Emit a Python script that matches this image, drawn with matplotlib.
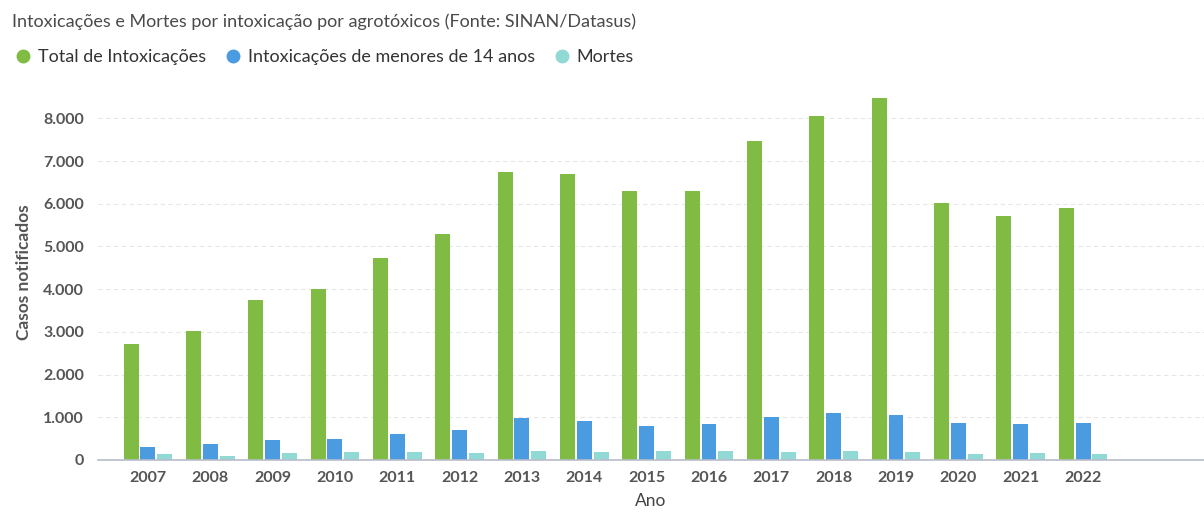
import numpy as np
import matplotlib
matplotlib.use('Agg')
from matplotlib import pyplot as plt
from matplotlib.lines import Line2D
from matplotlib.ticker import FuncFormatter

plt.rcParams['font.family'] = ['Lato', 'DejaVu Sans']

# data
anos = ['2007', '2008', '2009', '2010', '2011', '2012', '2013', '2014',
        '2015', '2016', '2017', '2018', '2019', '2020', '2021', '2022']
total = [2720, 3030, 3750, 4000, 4720, 5280, 6750, 6690,
         6300, 6300, 7460, 8050, 8480, 6020, 5710, 5900]
menores = [310, 370, 470, 490, 610, 710, 980, 920,
           790, 840, 1000, 1110, 1060, 860, 840, 860]
mortes = [130, 95, 160, 180, 185, 160, 220, 185,
          220, 220, 185, 220, 185, 135, 160, 135]

c_total = '#80bc44'
c_menores = '#4a9be0'
c_mortes = '#90d9d4'

fig = plt.figure(figsize=(12.04, 5.12), dpi=100)
ax = fig.add_axes([0.0814, 0.1016, 0.9186, 0.734])

x = np.arange(len(anos))
w = 0.24
ax.bar(x - w - 0.03, total, w, color=c_total)
ax.bar(x, menores, w, color=c_menores)
ax.bar(x + w + 0.03, mortes, w, color=c_mortes)

ax.set_xlim(-0.8, len(anos) - 1 + 1.94)
ax.set_ylim(0, 8800)
ax.set_yticks(range(0, 8001, 1000))
ax.yaxis.set_major_formatter(FuncFormatter(lambda v, p: f'{int(v):,}'.replace(',', '.')))
ax.set_xticks(x)
ax.set_xticklabels(anos)

for s in ['top', 'right', 'left']:
    ax.spines[s].set_visible(False)
ax.spines['bottom'].set_color('#b8bcc8')
ax.spines['bottom'].set_linewidth(1.2)
ax.tick_params(axis='y', length=0, pad=10, labelsize=11.5, labelcolor='#555555')
ax.tick_params(axis='x', length=0, pad=8, labelsize=11.5, labelcolor='#555555')
for lbl in ax.get_xticklabels() + ax.get_yticklabels():
    lbl.set_fontweight('bold')
ax.grid(axis='y', color='#e6e6e6', linestyle=(0, (4, 3)), linewidth=0.8)
ax.set_axisbelow(True)

ax.set_ylabel('Casos notificados', fontsize=12.5, fontweight='bold', color='#555555', labelpad=8)
ax.set_xlabel('Ano', fontsize=12.5, color='#444444', labelpad=6)

fig.text(0.01, 0.957, 'Intoxicações e Mortes por intoxicação por agrotóxicos (Fonte: SINAN/Datasus)',
         fontsize=13, color='#4a4a4a', va='center', ha='left')

handles = [Line2D([], [], marker='o', linestyle='', markersize=9, color=c)
           for c in (c_total, c_menores, c_mortes)]
fig.legend(handles, ['Total de Intoxicações', 'Intoxicações de menores de 14 anos', 'Mortes'],
           loc='center left', bbox_to_anchor=(0.0, 0.888), ncol=3, frameon=False,
           fontsize=13, handlelength=0.8, handletextpad=0.4, columnspacing=1.1,
           labelcolor='#333333')

fig.savefig('out.png', dpi=100)
